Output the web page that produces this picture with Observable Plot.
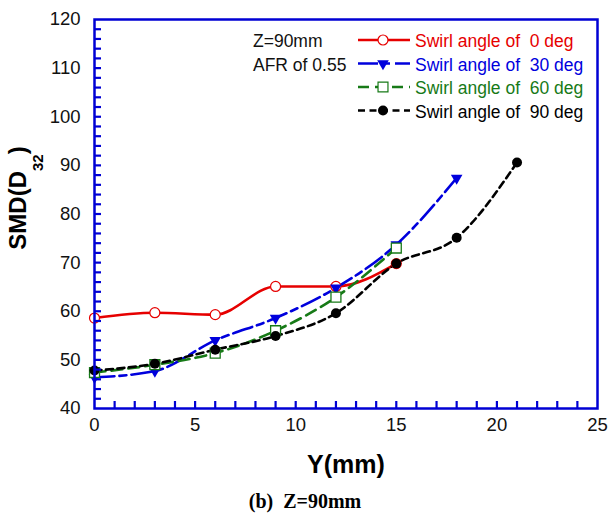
<!DOCTYPE html>
<html><head><meta charset="utf-8">
<script src="https://cdn.jsdelivr.net/npm/d3@7"></script>
<script src="https://cdn.jsdelivr.net/npm/@observablehq/plot@0.6"></script>
<style>body{margin:0;background:#fff} svg{display:block}</style>
</head><body><div id="chart"></div>
<script>
// ---- data ----
const positions = [0, 3, 6, 9, 12, 15, 18, 21];          // Y (mm)
const swirl0  = [58.6, 59.7, 59.3, 65.1, 65.1, 69.8];
const swirl30 = [46.4, 47.7, 54.0, 58.6, 64.8, 73.7, 87.4];
const swirl60 = [47.4, 49.0, 51.4, 56.0, 62.9, 73.0];
const swirl90 = [47.8, 49.2, 52.1, 54.9, 59.6, 69.8, 75.1, 90.6];
const seriesNames = ["Swirl angle of  0 deg", "Swirl angle of  30 deg", "Swirl angle of  60 deg", "Swirl angle of  90 deg"];
const xTicks = [0, 5, 10, 15, 20, 25];
const yTicks = [40, 50, 60, 70, 80, 90, 100, 110, 120];
const xMinor = [1,2,3,4,5,6,7,8,9,10,11,12,13,14,15,16,17,18,19,20,21,22,23,24];
const yMinor = [42,44,46,48,50,52,54,56,58,60,62,64,66,68,70,72,74,76,78,80,82,84,86,88,90,92,94,96,98,100,102,104,106,108,110,112,114,116,118];
const noteLines = ["Z=90mm", "AFR of 0.55"];
const xLabel = "Y(mm)";
const caption = "(b)  Z=90mm";

// ---- styles ----
const AXIS = "#0000d4";
const COLORS = ["#e60000", "#0000dd", "#177a17", "#000000"];
const DASH = [null, "20,5,7,5", "11,6", "7,4.5"];
const W = 608, H = 517, ML = 94, MR = 11, MT = 19, MB = 109;
const FW = W - ML - MR, FH = H - MT - MB;
const XDOM = [0, 25], YDOM = [40, 120];
const TICK = 7; // inward tick length in px
const tickDX = TICK / FW * (XDOM[1] - XDOM[0]);
const tickDY = TICK / FH * (YDOM[1] - YDOM[0]);

const rows = (vals) => vals.map((v, j) => ({x: positions[j], y: v}));
const r0 = rows(swirl0), r30 = rows(swirl30), r60 = rows(swirl60), r90 = rows(swirl90);

const svg = Plot.plot({
  width: W, height: H,
  marginLeft: ML, marginRight: MR, marginTop: MT, marginBottom: MB,
  style: {fontFamily: "'Liberation Sans', Arial, sans-serif", color: "#000", background: "#fff"},
  x: {domain: XDOM},
  y: {domain: YDOM},
  marks: [
    Plot.axisY(yTicks, {anchor: "left", tickSize: 0, tickPadding: 14, fontSize: 18.5, label: null, fill: "#111"}),
    Plot.axisX(xTicks, {anchor: "bottom", tickSize: 0, tickPadding: 9, fontSize: 18.5, label: null, fill: "#111"}),
    Plot.line(r0,  {x: "x", y: "y", stroke: COLORS[0], strokeWidth: 2.6, curve: "monotone-x"}),
    Plot.line(r30, {x: "x", y: "y", stroke: COLORS[1], strokeWidth: 2.6, strokeDasharray: DASH[1], curve: "monotone-x"}),
    Plot.line(r60, {x: "x", y: "y", stroke: COLORS[2], strokeWidth: 2.6, strokeDasharray: DASH[2], curve: "monotone-x"}),
    Plot.line(r90, {x: "x", y: "y", stroke: COLORS[3], strokeWidth: 2.6, strokeDasharray: DASH[3], curve: "monotone-x"}),
    Plot.dot(r0,  {x: "x", y: "y", r: 5, stroke: COLORS[0], fill: "white", strokeWidth: 1.2}),
    Plot.dot(r30, {x: "x", y: "y", symbol: "triangle", rotate: 180, r: 4.3, fill: COLORS[1], stroke: "none"}),
    Plot.dot(r60, {x: "x", y: "y", symbol: "square", r: 5.6, stroke: COLORS[2], fill: "white", strokeWidth: 1.3}),
    Plot.dot(r90, {x: "x", y: "y", r: 5, fill: COLORS[3], stroke: "none"}),
    // inward ticks
    Plot.ruleY(yMinor, {y: d => d, x1: XDOM[0], x2: XDOM[0] + tickDX, stroke: AXIS, strokeWidth: 2.2}),
    Plot.ruleX(xMinor, {x: d => d, y1: YDOM[0], y2: YDOM[0] + tickDY, stroke: AXIS, strokeWidth: 2.2}),
    Plot.frame({stroke: AXIS, strokeWidth: 2.5})
  ]
});

const s = d3.select(svg);
const SANS = "'Liberation Sans', Arial, sans-serif";

// y-axis label with subscript
const yl = s.append("text")
  .attr("transform", "translate(26,198) rotate(-90)")
  .attr("text-anchor", "middle")
  .attr("font-family", SANS).attr("font-weight", "bold").attr("font-size", 24).attr("fill", "#000");
yl.append("tspan").text("SMD(D");
yl.append("tspan").attr("dy", 17).attr("font-size", 15).text("32");
yl.append("tspan").attr("dy", -17).text(")");

// x-axis label
s.append("text").attr("x", 346).attr("y", 473).attr("text-anchor", "middle")
  .attr("font-family", SANS).attr("font-weight", "bold").attr("font-size", 25).attr("fill", "#000")
  .text(xLabel);

// caption
s.append("text").attr("x", 305).attr("y", 508).attr("text-anchor", "middle")
  .attr("font-family", "'Liberation Serif', 'Times New Roman', serif").attr("font-weight", "bold")
  .attr("font-size", 20).attr("fill", "#000").style("white-space", "pre")
  .text(caption);

// annotation
noteLines.forEach((t, i) => {
  s.append("text").attr("x", 253).attr("y", 41 + i * 24).attr("dy", "0.35em")
    .attr("text-anchor", "start")
    .attr("font-family", SANS).attr("font-size", 17.5).attr("fill", "#111").text(t);
});

// legend
const legY = [40, 63.5, 87, 110.5];
const symbols = [d3.symbolCircle, d3.symbolTriangle, d3.symbolSquare, d3.symbolCircle];
const symR = [5, 4.3, 5.6, 5];
const g = s.append("g");
seriesNames.forEach((name, i) => {
  const y = legY[i];
  g.append("line").attr("x1", 358).attr("x2", 410).attr("y1", y).attr("y2", y)
    .attr("stroke", COLORS[i]).attr("stroke-width", 2.6)
    .attr("stroke-dasharray", DASH[i] ? DASH[i] : null);
  const p = g.append("path")
    .attr("d", d3.symbol(symbols[i], Math.PI * symR[i] * symR[i])())
    .attr("transform", `translate(383,${y})` + (i === 1 ? " rotate(180)" : ""));
  if (i === 0 || i === 2) p.attr("fill", "white").attr("stroke", COLORS[i]).attr("stroke-width", 1.2);
  else p.attr("fill", COLORS[i]);
  g.append("text").attr("x", 415).attr("y", y + 1).attr("dy", "0.35em")
    .attr("text-anchor", "start")
    .attr("font-family", SANS).attr("font-size", 17.5).attr("fill", COLORS[i])
    .style("white-space", "pre").text(name);
});

document.getElementById("chart").appendChild(svg);
</script>
</body></html>
